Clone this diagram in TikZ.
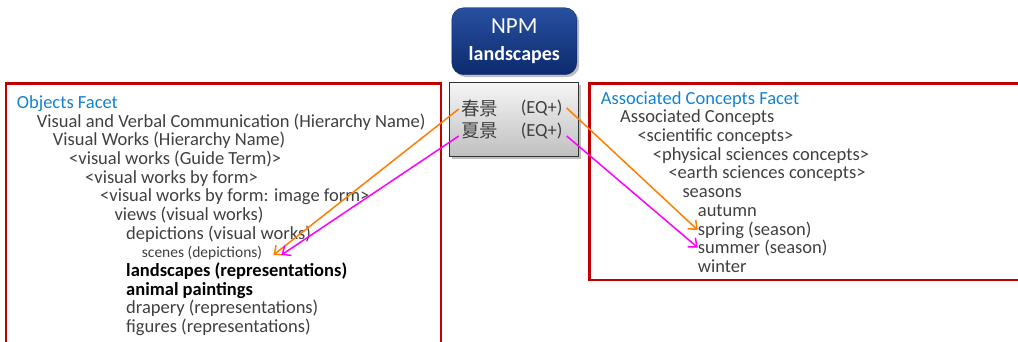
\documentclass[tikz,border=0pt]{standalone}
\usepackage{fontspec}
\setmainfont{Carlito}
\newfontfamily\cjkfont{Noto Sans CJK TC}
\usepackage{tikz}
\usetikzlibrary{arrows.meta, positioning, shadows}

\definecolor{facetred}{RGB}{192,0,0}
\definecolor{facetblue}{RGB}{20,130,205}
\definecolor{termgray}{RGB}{64,64,64}
\definecolor{npmtop}{RGB}{40,80,160}
\definecolor{npmbot}{RGB}{12,42,110}
\definecolor{linkorange}{RGB}{255,125,0}
\definecolor{linkpink}{RGB}{255,0,255}

\tikzset{
    term/.style={anchor=base west, inner sep=0pt, text=termgray, font=\fontsize{18.5}{20}\selectfont},
    facethead/.style={term, text=facetblue},
    boldterm/.style={term, text=black, font=\fontsize{18.5}{20}\selectfont\bfseries},
    smallterm/.style={term, font=\fontsize{15.5}{17}\selectfont},
    facetbox/.style={draw=facetred, line width=2.4pt},
    eqterm/.style={inner sep=2pt, text=termgray, font=\fontsize{18.5}{20}\selectfont},
    link/.style={line width=1.5pt, -{Straight Barb[length=7pt,width=12pt]}}
}

\begin{document}
\begin{tikzpicture}[x=1pt, y=-1pt]
\useasboundingbox (0,0) rectangle (1018,341);
\clip (0,0) rectangle (1018,341);

    \draw[facetbox] (6,83.5) rectangle (441,370);
    \draw[facetbox] (589.5,83.5) rectangle (1040,280);

    \node[draw=npmbot, rounded corners=12pt, top color=npmtop, bottom color=npmbot, drop shadow,
          minimum width=125pt, minimum height=67pt, text=white, align=center,
          font=\fontsize{20}{27}\selectfont] (npm) at (514.3,41.2)
          {{\fontsize{23}{27}\selectfont NPM}\\{\bfseries landscapes}};

    \node[draw=black!80, line width=1pt, top color=black!4, bottom color=black!25, drop shadow,
          minimum width=129pt, minimum height=74pt] (eqbox) at (513.8,119.7) {};
    \node[eqterm, font=\fontsize{18.5}{20}\selectfont\cjkfont] (chun) at (479.5,108) {春景};
    \node[eqterm, font=\fontsize{18.5}{20}\selectfont\cjkfont] (xia) at (479.5,131) {夏景};
    \node[eqterm, inner sep=4pt] (eqa) at (541.7,108) {(EQ+)};
    \node[eqterm, inner sep=4pt] (eqb) at (541.7,131) {(EQ+)};

    % objects facet
    \node[facethead] (objfacet) at (16.7,108) {Objects Facet};
    \node[term] (vvc) at (36.7,127) {Visual and Verbal Communication (Hierarchy Name)};
    \node[term] (vworks) at (52.7,145.5) {Visual Works (Hierarchy Name)};
    \node[term] (guide) at (69,164) {<visual works (Guide Term)>};
    \node[term] (byform) at (85,183) {<visual works by form>};
    \node[term] (imgform) at (100,201.5) {<visual works by form: image form>};
    \node[term] (views) at (114.3,220) {views (visual works)};
    \node[term] (depict) at (126,239) {depictions (visual works)};
    \node[smallterm] (scenes) at (141.7,257) {scenes (depictions)};
    \node[boldterm] (landsc) at (126,276.5) {landscapes (representations)};
    \node[boldterm] (animal) at (126,295) {animal paintings};
    \node[term] (drapery) at (126,313.5) {drapery (representations)};
    \node[term] (figures) at (126,332) {figures (representations)};

    % associated concepts facet
    \node[facethead] (assocfacet) at (600.7,104) {Associated Concepts Facet};
    \node[term] (assoc) at (620,122.7) {Associated Concepts};
    \node[term] (sci) at (637.3,141.3) {<scientific concepts>};
    \node[term] (phys) at (652.7,160) {<physical sciences concepts>};
    \node[term] (earth) at (668.3,178.5) {<earth sciences concepts>};
    \node[term] (seasons) at (682.3,197.5) {seasons};
    \node[term] (autumn) at (697.7,216) {autumn};
    \node[term] (spring) at (697.7,235) {spring (season)};
    \node[term] (summer) at (697.7,253.5) {summer (season)};
    \node[term] (winter) at (697.7,272.3) {winter};

    \draw[link, linkorange] ([yshift=-1pt]chun.west) -- ([xshift=11pt,yshift=2pt]scenes.base east);
    \draw[link, linkpink] ([yshift=-5pt]xia.west) -- ([xshift=19pt,yshift=2pt]scenes.base east);
    \draw[link, linkorange] (eqa.east) -- ([yshift=5pt]spring.base west);
    \draw[link, linkpink] ([yshift=-5pt]eqb.east) -- ([yshift=6pt]summer.base west);
\end{tikzpicture}
\end{document}
